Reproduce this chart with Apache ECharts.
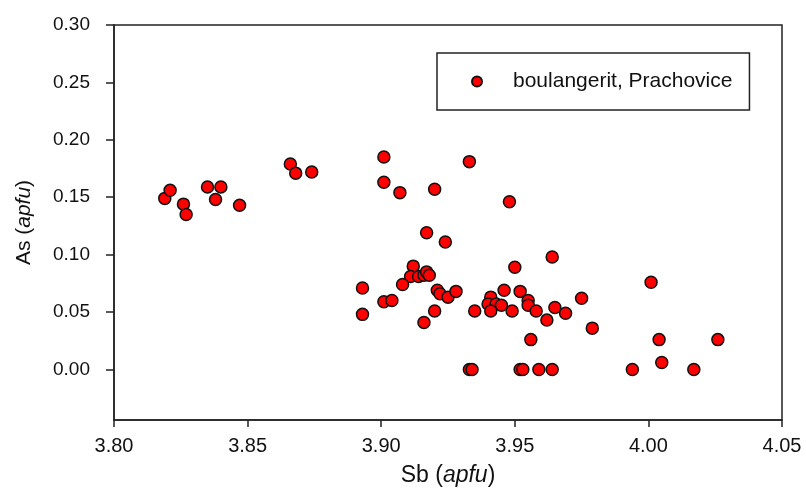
<!DOCTYPE html>
<html>
<head>
<meta charset="utf-8">
<script src="https://cdn.jsdelivr.net/npm/echarts@6/dist/echarts.min.js"></script>
<style>html,body{margin:0;padding:0;background:#fff;}#c{width:806px;height:488px;}</style>
</head>
<body>
<div id="c"></div>
<script>
// Sb (apfu) values
const sbValues = [3.819,3.821,3.826,3.827,3.835,3.840,3.838,3.847,3.866,3.868,3.874,
  3.901,3.933,3.901,3.907,3.920,3.948,3.917,3.924,3.964,3.950,3.912,3.911,3.914,3.916,3.917,3.918,
  3.908,3.921,3.922,3.925,3.928,3.893,3.893,3.901,3.904,3.920,3.916,3.935,3.941,3.940,3.943,3.941,
  3.945,3.946,3.949,3.952,3.955,3.955,3.958,3.965,3.962,3.969,3.975,3.979,3.956,
  3.933,3.934,3.952,3.953,3.959,3.964,4.001,4.004,4.005,3.994,4.017,4.026];
// As (apfu) values
const asValues = [0.149,0.156,0.144,0.135,0.159,0.159,0.148,0.143,0.179,0.171,0.172,
  0.185,0.181,0.163,0.154,0.157,0.146,0.119,0.111,0.098,0.089,0.090,0.081,0.081,0.082,0.085,0.082,
  0.074,0.069,0.066,0.063,0.068,0.071,0.048,0.059,0.060,0.051,0.041,0.051,0.063,0.057,0.057,0.051,
  0.056,0.069,0.051,0.068,0.060,0.056,0.051,0.054,0.043,0.049,0.062,0.036,0.026,
  0,0,0,0,0,0,0.076,0.026,0.006,0,0,0.026];
const seriesName = 'boulangerit, Prachovice';
const xTicks = [3.80,3.85,3.90,3.95,4.00,4.05];
const yTicks = [0.00,0.05,0.10,0.15,0.20,0.25,0.30];

const chart = echarts.init(document.getElementById('c'), null, {renderer:'canvas'});
const F = 'Liberation Sans, Arial, sans-serif';
chart.setOption({
  backgroundColor:'#fff',
  animation:false,
  grid:{left:114,right:24,top:25,bottom:68,show:true,borderColor:'#222',borderWidth:1.5,backgroundColor:'transparent',
        containLabel:false, outerBoundsMode:'none'},
  legend:{
    left:437, top:53,
    orient:'horizontal',
    data:[seriesName],
    itemWidth:62, itemHeight:10,
    padding:[18,17,18,34],
    borderColor:'#222', borderWidth:1.5,
    textStyle:{fontFamily:F,fontSize:21,color:'#111',lineHeight:20}
  },
  xAxis:{
    type:'value', min:3.80, max:4.05,
    name:'{n|Sb (}{i|apfu}{n|)}',
    nameLocation:'middle', nameGap:44,
    nameTextStyle:{rich:{n:{fontFamily:F,fontSize:23,color:'#111'},i:{fontFamily:F,fontSize:23,fontStyle:'italic',color:'#111'}}},
    axisLine:{show:true,onZero:false,lineStyle:{color:'#222',width:1.5}},
    axisTick:{show:true,inside:false,length:7,customValues:xTicks,lineStyle:{color:'#222',width:1.5}},
    axisLabel:{customValues:xTicks,fontFamily:F,fontSize:20,color:'#111',margin:16,formatter:v=>v.toFixed(2)},
    splitLine:{show:false}
  },
  yAxis:{
    type:'value', min:-0.044, max:0.30,
    name:'{n|As (}{i|apfu}{n|)}',
    nameLocation:'middle', nameGap:79, nameRotate:90,
    nameTextStyle:{rich:{n:{fontFamily:F,fontSize:21,color:'#111'},i:{fontFamily:F,fontSize:21,fontStyle:'italic',color:'#111'}}},
    axisLine:{show:true,onZero:false,lineStyle:{color:'#222',width:1.5}},
    axisTick:{show:true,inside:false,length:8,customValues:yTicks,lineStyle:{color:'#222',width:1.5}},
    axisLabel:{customValues:yTicks,fontFamily:F,fontSize:19,color:'#111',margin:24,formatter:v=>v.toFixed(2)},
    splitLine:{show:false}
  },
  series:[{
    name:seriesName,
    type:'scatter',
    symbol:'circle',
    symbolSize:12,
    itemStyle:{color:'#ff0000',borderColor:'#111',borderWidth:1.5,opacity:1},
    data:sbValues.map((x,i)=>[x,asValues[i]])
  }]
});
</script>
</body>
</html>
